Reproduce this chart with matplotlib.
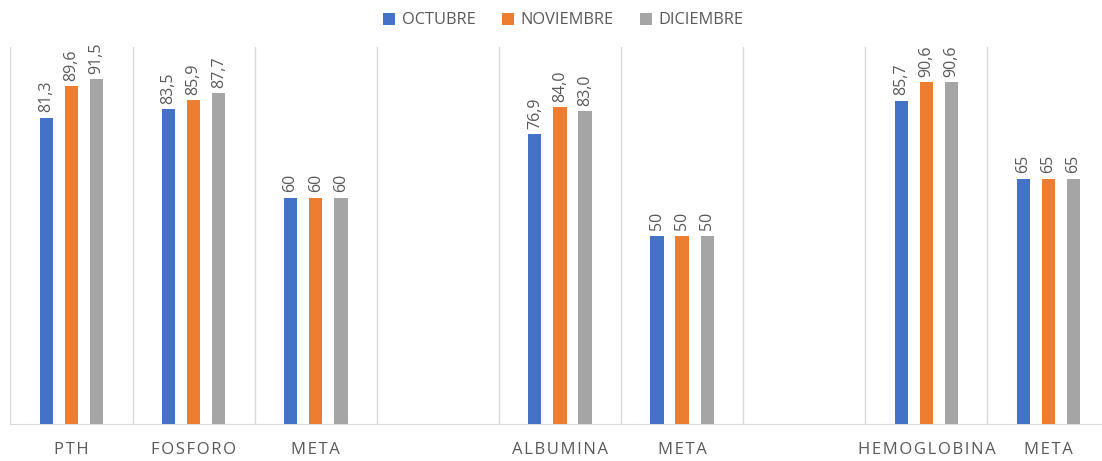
import numpy as np
import matplotlib.pyplot as plt

# categories (blank slots are the empty gaps in the chart)
categories = ["PTH", "FOSFORO", "META", "", "ALBUMINA", "META", "", "HEMOGLOBINA", "META"]
octubre = [81.3, 83.5, 60, np.nan, 76.9, 50, np.nan, 85.7, 65]
noviembre = [89.6, 85.9, 60, np.nan, 84.0, 50, np.nan, 90.6, 65]
diciembre = [91.5, 87.7, 60, np.nan, 83.0, 50, np.nan, 90.6, 65]
decimals = [1, 1, 0, 0, 1, 0, 0, 1, 0]
series_names = ["OCTUBRE", "NOVIEMBRE", "DICIEMBRE"]

colors = ["#4472C4", "#ED7D31", "#A5A5A5"]
text_color = "#595959"
grid_color = "#D9D9D9"

plt.rcParams['font.family'] = ['Open Sans', 'DejaVu Sans']

fig = plt.figure(figsize=(11.02, 4.61), dpi=100)
# plot area runs a little past the right edge of the image, like the original
ax = fig.add_axes([0.0095, 0.080, 0.9973, 0.818])

x = np.arange(len(categories))
width = 0.109
offsets = [-0.206, 0.0, 0.206]

for vals, name, col, off in zip([octubre, noviembre, diciembre], series_names, colors, offsets):
    ax.bar(x + off, vals, width=width, color=col, label=name, zorder=3)
    for xi, v, d in zip(x, vals, decimals):
        if np.isnan(v):
            continue
        lbl = f"{v:.{d}f}".replace(".", ",")
        ax.annotate(lbl, (xi + off, v), xytext=(0, 4), textcoords="offset points",
                    rotation=90, ha="center", va="bottom", fontsize=11.5,
                    color=text_color)

for b in np.arange(-0.5, len(categories), 1.0):
    ax.axvline(b, color=grid_color, linewidth=1, zorder=1)

ax.set_xlim(-0.5, len(categories) - 0.5)
ax.set_ylim(0, 100)
ax.set_yticks([])

spaced = ["\u200a".join(c) for c in categories]
ax.set_xticks(x)
ax.set_xticklabels(spaced, fontsize=12, color=text_color)
ax.tick_params(axis="x", length=0, pad=13)

for side in ["top", "left", "right"]:
    ax.spines[side].set_visible(False)
ax.spines["bottom"].set_color(grid_color)

fig.legend(loc="upper center", bbox_to_anchor=(0.511, 1.005), ncol=3, frameon=False,
           fontsize=11.8, labelcolor=text_color, handlelength=0.75, handleheight=0.75,
           handletextpad=0.4, columnspacing=1.6)

fig.savefig("out.png", dpi=100)
